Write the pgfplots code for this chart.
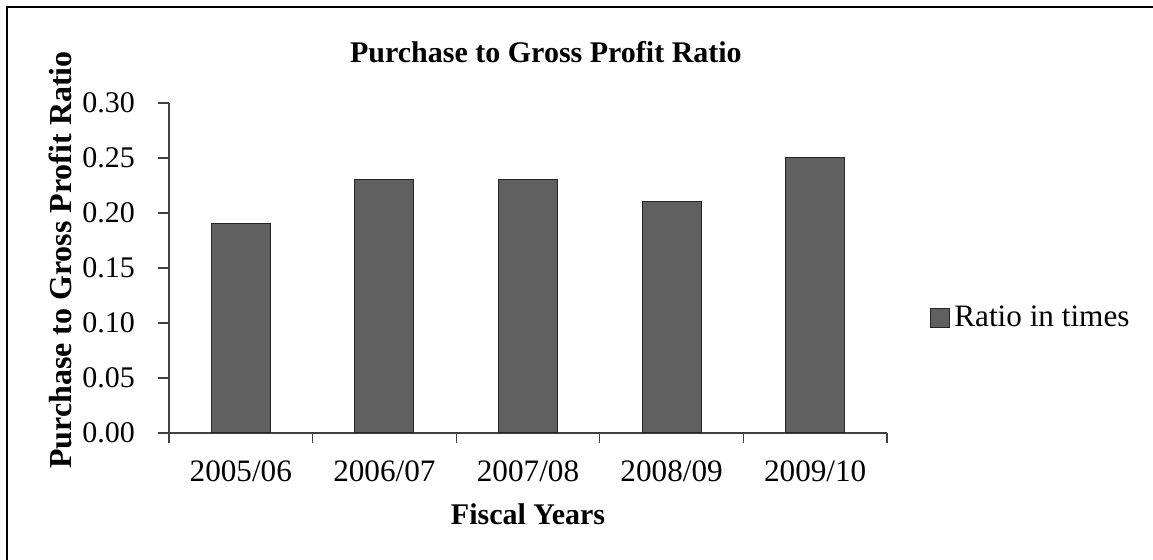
\documentclass[border=0pt]{standalone}
\usepackage{fontspec}
\setmainfont{Liberation Serif}
\usepackage{pgfplots}
\pgfplotsset{compat=1.18}
\definecolor{barfill}{HTML}{606060}
\definecolor{axisgray}{HTML}{404040}
\newcommand\fs{\fontsize{15}{18}\selectfont}
\newcommand\ft{\fontsize{15.6}{18}\selectfont}
\newcommand\fy{\fontsize{16}{19}\selectfont}
\begin{document}
\begin{tikzpicture}
\path[use as bounding box] (0,0) rectangle (576.5pt,280pt);
\draw[line width=1.1pt] (3.5pt,0) -- (3.5pt,276.5pt) -- (576.5pt,276.5pt);
\begin{axis}[
  at={(84.5pt,63.5pt)}, anchor=south west,
  scale only axis, width=359pt, height=165pt,
  xmin=-0.5, xmax=4.5, ymin=0, ymax=0.3,
  axis x line*=bottom, axis y line*=left,
  axis line style={draw=axisgray, line width=0.6pt, -},
  tick align=outside,
  major tick length=5.5pt, minor tick length=5pt,
  xtick={0,1,2,3,4},
  xticklabels={2005/06,2006/07,2007/08,2008/09,2009/10},
  major x tick style={draw=none},
  minor xtick={-0.5,0.5,1.5,2.5,3.5,4.5},
  minor x tick style={draw=axisgray, line width=0.6pt},
  major y tick style={draw=axisgray, line width=0.6pt},
  ytick={0,0.05,0.1,0.15,0.2,0.25,0.3},
  /pgf/number format/assume math mode=true,
  xticklabel style={yshift=-5pt, font=\ft},
  yticklabel style={/pgf/number format/.cd, fixed, fixed zerofill, precision=2, /tikz/.cd, xshift=-8pt, font=\fs},
  title={\textbf{Purchase to Gross Profit Ratio}},
  title style={at={(rel axis cs:0.525,1)}, anchor=base, yshift=14pt, font=\fs},
  xlabel={\textbf{Fiscal Years}},
  xlabel style={at={(rel axis cs:0.5,0)}, anchor=base, yshift=-46pt, font=\fs},
  ylabel={\textbf{Purchase to Gross Profit Ratio}},
  ylabel style={at={(rel axis cs:-0.1355,0.524)}, anchor=base, font=\fy},
  legend style={at={(rel axis cs:1.0599,0.348)}, anchor=west, draw=none, fill=none, font=\ft, inner sep=0pt},
  legend image code/.code={\draw[fill=barfill,draw=black!85,line width=0.5pt] (0pt,-4.75pt) rectangle (9.5pt,4.75pt);},
]
\addplot[ybar, bar width=0.41, fill=barfill, draw=black!85, line width=0.5pt]
  coordinates {(0,0.19) (1,0.23) (2,0.23) (3,0.21) (4,0.25)};
\addlegendentry{Ratio in times}
\end{axis}
\end{tikzpicture}
\end{document}
